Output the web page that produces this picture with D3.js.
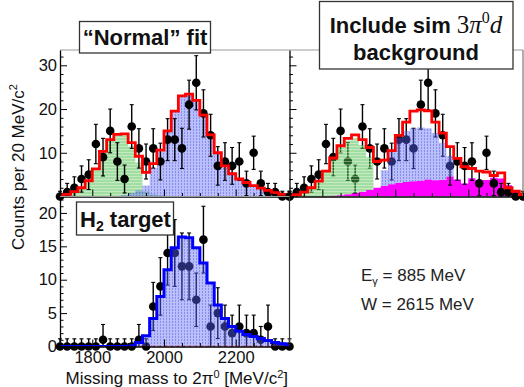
<!DOCTYPE html>
<html>
<head>
<meta charset="utf-8">
<script src="https://cdn.jsdelivr.net/npm/d3@7"></script>
<style>
  body { margin: 0; background: #fff; }
  svg { display: block; font-family: "Liberation Sans", Arial, Helvetica, sans-serif; }
</style>
</head>
<body>
<svg id="chart" width="524" height="387"></svg>
<script>
// Bin centres of the missing-mass histograms [MeV/c^2], 20 MeV wide bins
const massBins = [1710,1730,1750,1770,1790,1810,1830,1850,1870,1890,1910,1930,1950,1970,1990,2010,
                  2030,2050,2070,2090,2110,2130,2150,2170,2190,2210,2230,2250,2270,2290,2310,2330,2350];
const binWidth = 20;

// Deuterium data (same events in both upper panels)
const countsD2 = [0,1,2,4,5,12,9,15,8,4,16,11,8,11,8,13,13,11,21,26,19,14,7,8,7,8,3,10,3,1,1,0,0];
const errD2    = [1.2,2.0,2.5,3.0,3.4,4.5,4.3,5.0,4.3,3.2,5.0,4.5,4.0,4.5,4.2,4.8,4.8,4.6,5.6,6.2,5.4,4.8,4.4,4.3,4.2,4.3,2.8,3.8,2.8,2.0,2.0,1.2,1.2];

// "Normal" fit: coherent (green) + quasi-free (blue) templates and total
const greenNormal = [0.2,0.5,1.1,2.0,3.6,6.3,10.3,13.0,14.1,14.0,11.5,7.8,1.2,0.6,0.3,0.1,0,0,0,0,0,0,0,0,0,0,0,0,0,0,0,0,0];
const blueNormal  = [0,0,0,0,0,0,0,0,0.1,0.3,0.8,1.4,2.5,6.5,10.3,15.0,19.5,23.0,23.4,22.0,18.6,14.1,10.0,7.0,5.2,4.0,3.2,2.5,1.9,1.4,0.9,0.5,0.3];
const totalNormal = [0.2,0.5,1.1,2.0,3.6,6.3,10.3,13.0,14.2,14.3,12.3,9.2,5.5,7.5,10.6,15.0,19.5,23.0,23.4,22.0,18.6,14.1,10.0,7.0,5.2,4.0,3.2,2.5,1.9,1.4,0.9,0.5,0.3];

// Fit including simulated 3pi0 d background (magenta)
const greenSim = [0.1,0.4,1.0,2.0,3.5,5.6,8.5,11.2,12.8,13.3,11.8,9.0,1.0,0.5,0.2,0.1,0,0,0,0,0,0,0,0,0,0,0,0,0,0,0,0,0];
const blueSim  = [0,0,0,0,0,0,0,0,0,0.1,0.3,0.8,1.5,6.0,10.5,13.5,15.0,15.6,15.8,15.6,14.5,12.3,9.2,3.0,1.5,0.8,0.4,0.2,0.1,0,0,0,0];
const bkgSim   = [0,0,0,0,0,0.05,0.15,0.3,0.5,0.8,1.1,1.5,2.0,2.4,2.8,3.1,3.3,3.5,3.6,3.9,3.7,3.8,4.6,3.9,3.0,4.2,3.6,3.8,4.3,4.1,2.6,1.4,0.8];
const totalSim = [0.1,0.4,1.0,2.0,3.5,5.8,8.8,11.6,13.3,14.1,13.0,11.2,8.0,8.3,10.5,14.0,17.0,19.5,19.8,19.6,17.0,14.5,11.4,8.7,6.8,6.4,5.8,5.6,4.8,5.4,2.0,1.2,0.4];

// Hydrogen target data and fit
const countsH2 = [0,0,0,0,0,0,1,0,0,0,0,1,0,6,9,14,14,12,12,7,16,3,5,3,2,3,2,2,1,3,0,0,0];
const errH2    = [1.15,1.15,1.15,1.15,1.15,1.15,2.3,1.15,1.15,1.15,1.15,2.3,1.15,3.6,4.3,4.8,5.0,5.0,5.0,4.0,5.0,3.2,3.8,3.2,2.7,3.2,2.7,2.7,2.0,3.2,1.15,1.15,1.15];
const fitH2    = [0,0,0,0,0,0,0,0,0,0,0.1,0.6,1.6,4.2,7.5,11.5,14.8,16.4,16.3,14.8,12.5,9.5,6.2,4.2,3.0,2.3,1.8,1.5,1.2,0.9,0.6,0.4,0.2];

// Axis ticks and labels
const xMajor = [1800, 2000, 2200];
const xMinor = [1750,1850,1900,1950,2050,2100,2150,2250,2300,2350];
const yTopMajor = [10, 20, 30];
const yTopMinor = [2,4,6,8,12,14,16,18,22,24,26,28,32];
const yBotMajor = [0, 5, 10, 15, 20];
const yBotMinor = [1,2,3,4,6,7,8,9,11,12,13,14,16,17,18,19,21,22];

const svg = d3.select("#chart");
const defs = svg.append("defs");

// Hatched, semi-transparent fills
const pg = defs.append("pattern").attr("id", "fillGreen").attr("patternUnits", "userSpaceOnUse")
  .attr("width", 4).attr("height", 3);
pg.append("rect").attr("width", 4).attr("height", 3).attr("fill", "rgb(70,190,70)").attr("fill-opacity", 0.5);
pg.append("rect").attr("y", 2).attr("width", 4).attr("height", 1).attr("fill", "#fff").attr("fill-opacity", 0.35);

const pb = defs.append("pattern").attr("id", "fillBlue").attr("patternUnits", "userSpaceOnUse")
  .attr("width", 3).attr("height", 3);
pb.append("rect").attr("width", 3).attr("height", 3).attr("fill", "rgb(90,100,245)").attr("fill-opacity", 0.42);
pb.append("rect").attr("x", 1).attr("width", 1).attr("height", 2).attr("fill", "rgb(40,50,210)").attr("fill-opacity", 0.35);

// Scales
const yTop = d3.scaleLinear().domain([0, 33.5]).range([196.5, 50]);
const yBot = d3.scaleLinear().domain([0, 22.46]).range([346.5, 196.5]);
const xLeft = d3.scaleLinear().domain([1710, 2350]).range([60, 289.5]);
const xRight = d3.scaleLinear().domain([1710, 2350]).range([289.5, 523]);

function stepPoints(vals) {
  const pts = vals.map((v, i) => [massBins[i] - binWidth / 2, v]);
  pts.push([massBins[massBins.length - 1] + binWidth / 2, vals[vals.length - 1]]);
  return pts;
}

function addClip(id, x, y) {
  defs.append("clipPath").attr("id", id).append("rect")
    .attr("x", x.range()[0]).attr("y", y.range()[1])
    .attr("width", x.range()[1] - x.range()[0]).attr("height", y.range()[0] - y.range()[1]);
}

function fillArea(g, x, y, vals, fill, base) {
  const pts = stepPoints(vals);
  const baseVals = base ? stepPoints(base) : null;
  const area = d3.area()
    .x(d => x(d[0]))
    .y0((d, i) => y(baseVals ? baseVals[i][1] : 0))
    .y1((d, i) => y(baseVals ? Math.max(d[1], baseVals[i][1]) : d[1]))
    .curve(d3.curveStepAfter);
  g.append("path").attr("d", area(pts)).attr("fill", fill).attr("stroke", "none");
}

function stepLine(g, x, y, vals, color, width, dash) {
  const line = d3.line().x(d => x(d[0])).y(d => y(d[1])).curve(d3.curveStepAfter);
  const p = g.append("path").attr("d", line(stepPoints(vals)))
    .attr("fill", "none").attr("stroke", color).attr("stroke-width", width)
    .attr("stroke-linejoin", "miter");
  if (dash) p.attr("stroke-dasharray", dash);
}

function drawPoints(g, x, y, vals, errs) {
  const data = vals.map((v, i) => ({ m: massBins[i], v: v, lo: Math.max(0, v - errs[i]), hi: v + errs[i] }));
  const grp = g.append("g");
  grp.selectAll("line.bar").data(data).join("line").attr("class", "bar")
    .attr("x1", d => x(d.m)).attr("x2", d => x(d.m))
    .attr("y1", d => y(d.lo)).attr("y2", d => y(d.hi))
    .attr("stroke", "#000").attr("stroke-width", 1.4);
  grp.selectAll("line.capHi").data(data).join("line").attr("class", "capHi")
    .attr("x1", d => x(d.m) - 2).attr("x2", d => x(d.m) + 2)
    .attr("y1", d => y(d.hi)).attr("y2", d => y(d.hi))
    .attr("stroke", "#000").attr("stroke-width", 1.1);
  grp.selectAll("line.capLo").data(data.filter(d => d.lo > 0)).join("line").attr("class", "capLo")
    .attr("x1", d => x(d.m) - 2).attr("x2", d => x(d.m) + 2)
    .attr("y1", d => y(d.lo)).attr("y2", d => y(d.lo))
    .attr("stroke", "#000").attr("stroke-width", 1.1);
  grp.selectAll("circle").data(data).join("circle")
    .attr("cx", d => x(d.m)).attr("cy", d => y(d.v)).attr("r", 4.3).attr("fill", "#000");
}

function drawAxes(x, y, opts) {
  const g = svg.append("g");
  const x0 = x.range()[0], x1 = x.range()[1];
  const yb = y.range()[0], yt = y.range()[1];
  // frame top and right edges
  g.append("line").attr("x1", x0).attr("x2", x1).attr("y1", yt).attr("y2", yt)
    .attr("stroke", "#9a9a9a").attr("stroke-width", 1);
  if (opts.rightEdge) {
    g.append("line").attr("x1", x1).attr("x2", x1).attr("y1", yt).attr("y2", yb)
      .attr("stroke", opts.rightEdge).attr("stroke-width", 1.2);
  }
  // x axis
  const ax = g.append("g").attr("transform", `translate(0,${yb})`);
  ax.call(d3.axisBottom(x).tickValues(xMajor).tickSizeInner(-7).tickSizeOuter(0).tickPadding(5)
    .tickFormat(opts.xLabels ? d3.format("d") : ""));
  ax.append("g").call(d3.axisBottom(x).tickValues(xMinor).tickSizeInner(-3.5).tickSizeOuter(0).tickFormat(""))
    .select(".domain").remove();
  // y axis
  const ay = g.append("g").attr("transform", `translate(${x0},0)`);
  ay.call(d3.axisLeft(y).tickValues(opts.yMajor).tickSizeInner(-7).tickSizeOuter(0).tickPadding(3)
    .tickFormat(opts.yLabels ? d3.format("d") : ""));
  ay.append("g").call(d3.axisLeft(y).tickValues(opts.yMinor).tickSizeInner(-3.5).tickSizeOuter(0).tickFormat(""))
    .select(".domain").remove();
  g.selectAll(".domain").attr("stroke", "#000").attr("stroke-width", 1.3);
  g.selectAll(".tick line").attr("stroke", "#000").attr("stroke-width", 1);
  g.selectAll(".tick text").attr("font-size", 16.5).attr("fill", "#111")
    .attr("font-family", "'Liberation Sans', Arial, sans-serif");
}

// ---- upper left: "Normal" fit ----
addClip("clipTL", xLeft, yTop);
const tl = svg.append("g").attr("clip-path", "url(#clipTL)");
const tlPts = svg.append("g");
drawPoints(tlPts, xLeft, yTop, countsD2, errD2);
fillArea(tl, xLeft, yTop, greenNormal, "url(#fillGreen)");
fillArea(tl, xLeft, yTop, blueNormal, "url(#fillBlue)");
const tlTop = svg.append("g").attr("clip-path", "url(#clipTL)");
stepLine(tlTop, xLeft, yTop, totalNormal, "#ff0000", 2.8);

// ---- upper right: with simulated 3pi0 d background ----
addClip("clipTR", xRight, yTop);
const trBack = svg.append("g").attr("clip-path", "url(#clipTR)");
fillArea(trBack, xRight, yTop, bkgSim, "#ff00ff");
const trPts = svg.append("g");
drawPoints(trPts, xRight, yTop, countsD2, errD2);
const tr = svg.append("g").attr("clip-path", "url(#clipTR)");
fillArea(tr, xRight, yTop, greenSim, "url(#fillGreen)", bkgSim);
fillArea(tr, xRight, yTop, blueSim, "url(#fillBlue)", bkgSim);
stepLine(tr, xRight, yTop, totalSim, "#ff0000", 2.8);

// ---- lower left: hydrogen target ----
addClip("clipBL", xLeft, yBot);
const blPts = svg.append("g");
drawPoints(blPts, xLeft, yBot, countsH2, errH2);
const bl = svg.append("g").attr("clip-path", "url(#clipBL)");
fillArea(bl, xLeft, yBot, fitH2, "url(#fillBlue)");
stepLine(bl, xLeft, yBot, fitH2.map(() => 0), "#ff0000", 1.5, "3,3");
stepLine(bl, xLeft, yBot, fitH2, "#0000ff", 3);

// Axes and frames
drawAxes(xLeft, yTop, { yMajor: yTopMajor, yMinor: yTopMinor, yLabels: true, xLabels: false, rightEdge: null });
drawAxes(xRight, yTop, { yMajor: yTopMajor, yMinor: yTopMinor, yLabels: false, xLabels: false, rightEdge: "#777" });
drawAxes(xLeft, yBot, { yMajor: yBotMajor, yMinor: yBotMinor, yLabels: true, xLabels: true, rightEdge: "#333" });

// Axis titles
const yTitle = svg.append("text").attr("transform", "translate(24,167) rotate(-90)")
  .attr("text-anchor", "middle").attr("font-size", 17).attr("fill", "#111");
yTitle.append("tspan").text("Counts per 20 MeV/c");
yTitle.append("tspan").attr("dy", -7).attr("font-size", 11).text("2");

const xTitle = svg.append("text").attr("x", 288).attr("y", 384)
  .attr("text-anchor", "end").attr("font-size", 17).attr("fill", "#111");
xTitle.append("tspan").text("Missing mass to 2\u03c0");
xTitle.append("tspan").attr("dy", -6).attr("font-size", 11).text("0");
xTitle.append("tspan").attr("dy", 6).text(" [MeV/c");
xTitle.append("tspan").attr("dy", -6).attr("font-size", 11).text("2");
xTitle.append("tspan").attr("dy", 6).text("]");

// Panel labels
function labelBox(x, y, w, h) {
  svg.append("rect").attr("x", x).attr("y", y).attr("width", w).attr("height", h)
    .attr("fill", "#fff").attr("stroke", "#333").attr("stroke-width", 1.3);
}
labelBox(79.5, 21.5, 131, 31.5);
svg.append("text").attr("x", 145).attr("y", 45).attr("text-anchor", "middle")
  .attr("font-size", 22).attr("font-weight", "bold").attr("fill", "#111").text("\u201cNormal\u201d fit");

labelBox(319.5, 1.5, 193.5, 67.5);
const l1 = svg.append("text").attr("x", 416).attr("y", 33).attr("text-anchor", "middle")
  .attr("font-size", 22).attr("font-weight", "bold").attr("fill", "#111");
l1.append("tspan").text("Include sim ");
const serif = "'Liberation Serif', 'DejaVu Serif', 'Times New Roman', serif";
l1.append("tspan").attr("font-family", serif).attr("font-weight", "normal").attr("font-size", 25).text("3");
l1.append("tspan").attr("font-family", serif).attr("font-weight", "normal").attr("font-style", "italic").attr("font-size", 25).text("\u03c0");
l1.append("tspan").attr("font-family", serif).attr("font-weight", "normal").attr("font-size", 16).attr("dy", -10).text("0");
l1.append("tspan").attr("font-family", serif).attr("font-weight", "normal").attr("font-style", "italic").attr("font-size", 25).attr("dy", 10).text("d");
svg.append("text").attr("x", 416).attr("y", 60).attr("text-anchor", "middle")
  .attr("font-size", 22).attr("font-weight", "bold").attr("fill", "#111").text("background");

labelBox(76.5, 202, 97, 33);
const h2 = svg.append("text").attr("x", 80).attr("y", 226.5)
  .attr("font-size", 22).attr("font-weight", "bold").attr("fill", "#111");
h2.append("tspan").text("H");
h2.append("tspan").attr("font-size", 14).attr("dy", 4).text("2");
h2.append("tspan").attr("dy", -4).text(" target");

// Kinematics
const e1 = svg.append("text").attr("x", 361).attr("y", 281).attr("font-size", 17).attr("fill", "#222");
e1.append("tspan").text("E");
e1.append("tspan").attr("font-size", 11).attr("dy", 4).text("\u03b3");
e1.append("tspan").attr("dy", -4).text(" = 885 MeV");
svg.append("text").attr("x", 361).attr("y", 310).attr("font-size", 17).attr("fill", "#222").text("W = 2615 MeV");
</script>
</body>
</html>
